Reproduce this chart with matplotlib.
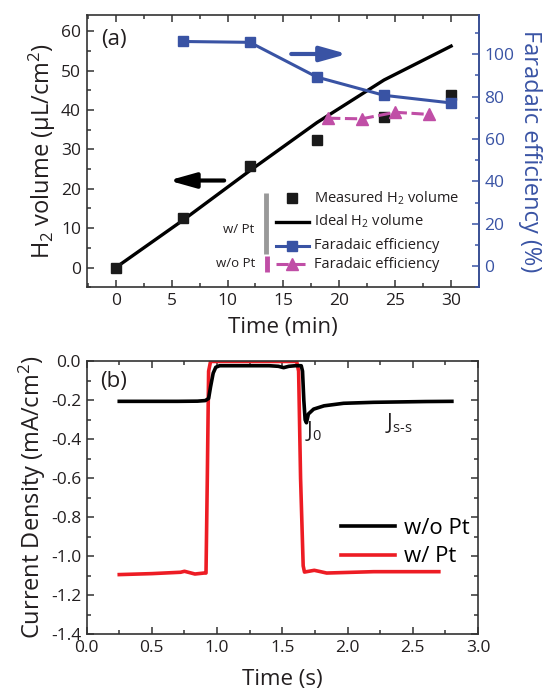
import numpy as np
import matplotlib.pyplot as plt

plt.rcParams['font.family'] = ['Open Sans', 'DejaVu Sans']
plt.rcParams['mathtext.fontset'] = 'custom'
plt.rcParams['mathtext.rm'] = 'Open Sans'
plt.rcParams['mathtext.it'] = 'Open Sans'
plt.rcParams['mathtext.default'] = 'regular'

BLUE = '#3953a4'
MAGENTA = '#c04ea6'
RED = '#ed1c24'
TXT = '#231f20'

# (a) H2 volume and faradaic efficiency
t_meas = [0, 6, 12, 18, 24, 30]
v_meas = [0, 12.5, 25.7, 32.3, 38.2, 43.7]
t_ideal = [0, 6, 12, 18, 24, 30]
v_ideal = [0, 12.0, 24.6, 36.8, 47.6, 56.2]
t_fe_pt = [6, 12, 18, 24, 30]
fe_pt = [106.0, 105.6, 89.2, 80.6, 77.0]
t_fe_nopt = [19, 22, 25, 28]
fe_nopt = [69.8, 69.5, 72.6, 71.6]

# (b) chopped-light current transients
t_nopt = [0.25, 0.5, 0.7, 0.85, 0.91, 0.935, 0.95, 0.97, 0.99, 1.02, 1.2, 1.4,
          1.47, 1.51, 1.55, 1.6, 1.645, 1.655, 1.665, 1.675, 1.685, 1.70, 1.74,
          1.82, 1.97, 2.2, 2.6, 2.8]
j_nopt = [-0.205, -0.205, -0.205, -0.204, -0.201, -0.19, -0.13, -0.06, -0.03,
          -0.022, -0.022, -0.022, -0.025, -0.032, -0.025, -0.022, -0.022, -0.05,
          -0.2, -0.3, -0.315, -0.27, -0.245, -0.228, -0.215, -0.21, -0.206, -0.205]
t_pt = [0.25, 0.5, 0.72, 0.75, 0.83, 0.9, 0.915, 0.925, 0.935, 0.95, 1.3,
        1.61, 1.625, 1.64, 1.66, 1.67, 1.745, 1.78, 1.84, 2.2, 2.7]
j_pt = [-1.095, -1.09, -1.083, -1.078, -1.092, -1.087, -1.087, -0.6, -0.05,
        0.0, 0.0, 0.0, -0.05, -0.6, -1.05, -1.082, -1.073, -1.078, -1.087,
        -1.08, -1.08]

fig = plt.figure(figsize=(5.45, 6.94), dpi=100)
ax = fig.add_axes([0.159, 0.586, 0.72, 0.393])
ax2 = ax.twinx()
bx = fig.add_axes([0.159, 0.0865, 0.718, 0.3927])

for a in (ax, bx):
    for s in a.spines.values():
        s.set_color('#333333')
        s.set_linewidth(1.2)

# ---- panel (a)
ax.plot(t_ideal, v_ideal, color='black', lw=2.4, zorder=3)
ax.plot(t_meas, v_meas, 's', color='#1a1a1a', ms=7.5, zorder=4)
ax2.plot(t_fe_pt, fe_pt, '-s', color=BLUE, lw=2.2, ms=7.5, zorder=3)
ax2.plot(t_fe_nopt, fe_nopt, '--^', color=MAGENTA, lw=2.2, ms=8.5,
         dashes=(4, 1.5), zorder=3)

ax.set_xlim(-2.6, 32.5)
ax.set_ylim(-4.8, 64.2)
ax2.set_ylim(-10, 118.7)
ax.set_xticks(range(0, 31, 5))
ax.set_xticks(np.arange(-2.5, 32.6, 2.5), minor=True)
ax.set_yticks(range(0, 61, 10))
ax.set_yticks(range(-5, 65, 5), minor=True)
ax2.set_yticks(range(0, 101, 20))
ax2.set_yticks(range(-10, 115, 10), minor=True)

ax.tick_params(which='both', direction='in', top=True, right=False,
               labelsize=12.5, colors='#333333', labelcolor=TXT, pad=4)
ax.tick_params(which='major', length=5, width=1.1)
ax.tick_params(which='minor', length=3, width=1.1)
ax2.tick_params(which='both', direction='in', colors=BLUE, labelsize=12.5, pad=4)
ax2.tick_params(which='major', length=5, width=1.1)
ax2.tick_params(which='minor', length=3, width=1.1)
ax2.spines['right'].set_color(BLUE)
ax2.spines['right'].set_linewidth(1.2)
for s in ('left', 'top', 'bottom'):
    ax2.spines[s].set_visible(False)

ax.set_xlabel('Time (min)', fontsize=16, color=TXT, labelpad=6)
ax.set_ylabel('H$_2$ volume (μL/cm$^2$)', fontsize=17, color=TXT, labelpad=2)
ax2.set_ylabel('Faradaic efficiency (%)', fontsize=17, color=BLUE,
               rotation=270, labelpad=20)
ax.text(0.036, 0.91, '(a)', transform=ax.transAxes, fontsize=16,
        color=TXT, va='center')

arrow = dict(arrowstyle='-|>,head_length=1.6,head_width=0.45', lw=3,
             shrinkA=0, shrinkB=0)
ax.annotate('', xy=(4.74, 22.1), xytext=(9.7, 22.1),
            arrowprops=dict(arrow, color='black'))
ax.annotate('', xy=(20.7, 54.2), xytext=(15.7, 54.2),
            arrowprops=dict(arrow, color=BLUE))

# hand-built legend with the w/ Pt and w/o Pt brackets
tr = ax2.transAxes
lx0, lx1, lxc, tx = 0.482, 0.566, 0.524, 0.58
rows = [0.326, 0.241, 0.152, 0.084]
ax2.plot([lxc], [rows[0]], 's', color='#1a1a1a', ms=7.5, transform=tr)
ax2.plot([lx0, lx1], [rows[1]] * 2, color='black', lw=2.4, transform=tr)
ax2.plot([lx0, lx1], [rows[2]] * 2, color=BLUE, lw=2.2, transform=tr)
ax2.plot([lxc], [rows[2]], 's', color=BLUE, ms=7.5, transform=tr)
ax2.plot([lx0, lx1], [rows[3]] * 2, color=MAGENTA, lw=2.2, dashes=(4, 1.5),
         transform=tr)
ax2.plot([lxc], [rows[3]], '^', color=MAGENTA, ms=8.5, transform=tr)
labels = ['Measured H$_2$ volume', 'Ideal H$_2$ volume',
          'Faradaic efficiency', 'Faradaic efficiency']
for y, lab in zip(rows, labels):
    ax2.text(tx, y, lab, transform=tr, fontsize=10.5, color=TXT, va='center')
ax2.plot([0.457, 0.457], [0.347, 0.122], color='#999999', lw=3.5,
         transform=tr, solid_capstyle='butt')
ax2.plot([0.459, 0.459], [0.115, 0.057], color=MAGENTA, lw=3.5,
         transform=tr, solid_capstyle='butt')
ax2.text(0.426, 0.213, 'w/ Pt', transform=tr, fontsize=9.5, color=TXT,
         ha='right', va='center')
ax2.text(0.429, 0.088, 'w/o Pt', transform=tr, fontsize=9.5, color=TXT,
         ha='right', va='center')

# ---- panel (b)
bx.plot(t_nopt, j_nopt, color='black', lw=2.6, label='w/o Pt', zorder=3)
bx.plot(t_pt, j_pt, color=RED, lw=2.6, label='w/ Pt', zorder=2)
bx.set_xlim(0, 3.0)
bx.set_ylim(-1.4, 0)
bx.set_xticks(np.arange(0, 3.01, 0.5))
bx.set_xticks(np.arange(0, 3.01, 0.25), minor=True)
bx.set_yticks(np.arange(-1.4, 0.01, 0.2))
bx.set_yticks(np.arange(-1.4, 0.01, 0.1), minor=True)
fmt = plt.FuncFormatter(lambda v, pos: '%.1f' % (round(v, 1) + 0.0))
bx.xaxis.set_major_formatter(fmt)
bx.yaxis.set_major_formatter(fmt)
bx.tick_params(which='both', direction='in', top=True, right=True,
               labelsize=12.5, colors='#333333', labelcolor=TXT, pad=4)
bx.tick_params(which='major', length=5, width=1.1)
bx.tick_params(which='minor', length=3, width=1.1)
bx.set_xlabel('Time (s)', fontsize=16, color=TXT, labelpad=10)
bx.set_ylabel('Current Density (mA/cm$^2$)', fontsize=17, color=TXT, labelpad=2)
bx.text(0.034, 0.925, '(b)', transform=bx.transAxes, fontsize=16,
        color=TXT, va='center')
bx.text(1.675, -0.295, 'J$_0$', fontsize=15, color=TXT, va='top')
bx.text(2.29, -0.255, 'J$_{s\\text{-}s}$', fontsize=15, color=TXT, va='top')
bx.legend(loc='upper left', bbox_to_anchor=(0.6, 0.5), frameon=False,
          fontsize=16, handlelength=2.4, handletextpad=0.4, labelspacing=0.35)

fig.savefig('out.png', dpi=100)
